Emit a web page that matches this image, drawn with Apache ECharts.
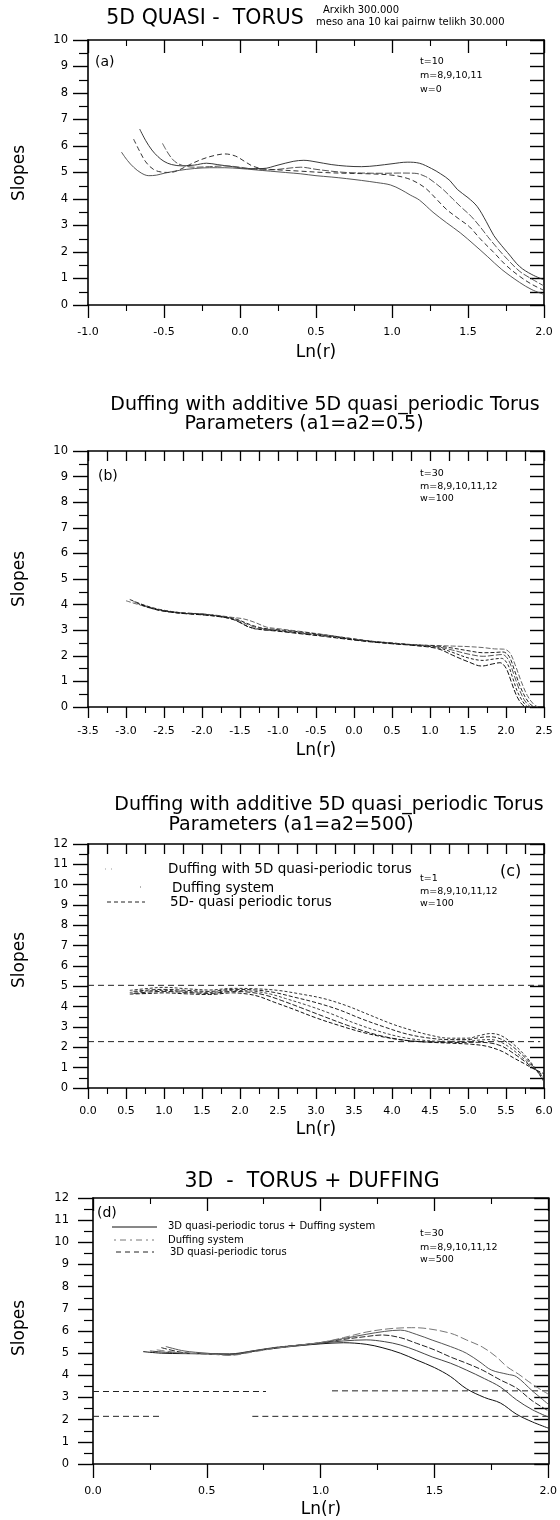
<!DOCTYPE html>
<html>
<head>
<meta charset="utf-8">
<script src="https://cdn.jsdelivr.net/npm/echarts@6/dist/echarts.min.js"></script>
<style>
  html, body { margin: 0; padding: 0; background: #fff; }
  #chart { width: 560px; height: 1520px; }
</style>
</head>
<body>
<div id="chart"></div>
<script>
// ---------- data: [Ln(r), slope] ----------

// (a) 5D quasi-torus, m = 8,9,10,11
const aCurve1 = [[-0.66,6.64],[-0.62,6.2],[-0.58,5.85],[-0.54,5.6],[-0.5,5.42],[-0.45,5.3],[-0.38,5.25],[-0.3,5.28],[-0.22,5.35],[-0.15,5.3],[-0.05,5.22],[0.05,5.15],[0.15,5.15],[0.25,5.28],[0.35,5.42],[0.42,5.46],[0.5,5.4],[0.6,5.3],[0.7,5.24],[0.8,5.22],[0.9,5.26],[1.0,5.33],[1.1,5.39],[1.18,5.35],[1.26,5.15],[1.32,4.95],[1.38,4.7],[1.43,4.36],[1.5,4.05],[1.56,3.72],[1.62,3.15],[1.67,2.62],[1.72,2.25],[1.76,1.98],[1.84,1.45],[1.92,1.15],[2.0,0.95]];
const aCurve2 = [[-0.51,6.1],[-0.47,5.7],[-0.43,5.42],[-0.38,5.27],[-0.3,5.2],[-0.2,5.22],[-0.1,5.25],[0.0,5.2],[0.1,5.12],[0.2,5.1],[0.3,5.15],[0.4,5.2],[0.5,5.12],[0.6,5.05],[0.7,5.0],[0.8,4.98],[0.95,4.97],[1.05,4.98],[1.15,4.97],[1.22,4.85],[1.28,4.62],[1.34,4.34],[1.4,4.0],[1.45,3.72],[1.52,3.35],[1.58,2.95],[1.63,2.58],[1.7,2.1],[1.76,1.72],[1.84,1.27],[1.92,0.98],[2.0,0.72]];
const aCurve3 = [[-0.7,6.26],[-0.66,5.8],[-0.62,5.4],[-0.57,5.12],[-0.52,5.02],[-0.46,5.0],[-0.4,5.1],[-0.33,5.3],[-0.25,5.5],[-0.17,5.64],[-0.1,5.7],[-0.03,5.62],[0.03,5.42],[0.08,5.25],[0.14,5.15],[0.25,5.1],[0.4,5.05],[0.55,5.0],[0.7,4.97],[0.85,4.95],[1.0,4.9],[1.1,4.78],[1.17,4.6],[1.23,4.36],[1.3,3.95],[1.36,3.6],[1.44,3.25],[1.51,2.95],[1.58,2.5],[1.67,1.98],[1.75,1.5],[1.84,1.08],[1.92,0.78],[2.0,0.55]];
const aCurve4 = [[-0.78,5.77],[-0.74,5.45],[-0.7,5.2],[-0.65,4.98],[-0.6,4.88],[-0.55,4.9],[-0.5,4.97],[-0.4,5.08],[-0.3,5.15],[-0.2,5.18],[-0.1,5.18],[0.0,5.15],[0.1,5.1],[0.2,5.05],[0.3,5.0],[0.4,4.95],[0.5,4.88],[0.6,4.83],[0.7,4.77],[0.8,4.7],[0.9,4.62],[0.99,4.53],[1.06,4.35],[1.12,4.15],[1.18,3.96],[1.27,3.5],[1.36,3.1],[1.45,2.72],[1.54,2.28],[1.63,1.82],[1.72,1.35],[1.84,0.85],[1.92,0.58],[2.0,0.4]];

// (b) Duffing + 5D torus, a1=a2=0.5, m = 8..12
const bCurve1 = [[-3.0,4.15],[-2.8,3.97],[-2.6,3.82],[-2.4,3.72],[-2.2,3.67],[-2.0,3.64],[-1.8,3.58],[-1.6,3.5],[-1.45,3.44],[-1.3,3.3],[-1.15,3.12],[-1.0,3.06],[-0.7,2.95],[-0.4,2.83],[-0.1,2.7],[0.2,2.58],[0.5,2.5],[0.8,2.43],[1.1,2.4],[1.3,2.38],[1.5,2.36],[1.7,2.32],[1.85,2.27],[1.97,2.26],[2.05,2.12],[2.12,1.65],[2.2,1.0],[2.28,0.45],[2.36,0.12],[2.42,0]];
const bCurve2 = [[-2.95,4.2],[-2.8,4.02],[-2.6,3.84],[-2.4,3.73],[-2.2,3.66],[-2.0,3.63],[-1.8,3.56],[-1.6,3.47],[-1.5,3.38],[-1.35,3.2],[-1.2,3.08],[-1.0,3.02],[-0.7,2.93],[-0.4,2.82],[-0.1,2.7],[0.2,2.58],[0.5,2.5],[0.8,2.43],[1.1,2.38],[1.3,2.3],[1.5,2.2],[1.7,2.12],[1.85,2.13],[1.96,2.15],[2.04,1.98],[2.11,1.45],[2.18,0.85],[2.26,0.35],[2.33,0.08],[2.38,0]];
const bCurve3 = [[-2.9,4.12],[-2.7,3.9],[-2.5,3.76],[-2.3,3.68],[-2.1,3.65],[-1.9,3.6],[-1.7,3.52],[-1.55,3.42],[-1.4,3.22],[-1.25,3.08],[-1.0,3.0],[-0.7,2.9],[-0.4,2.8],[-0.1,2.68],[0.2,2.57],[0.5,2.49],[0.8,2.42],[1.1,2.35],[1.3,2.22],[1.5,2.07],[1.7,1.98],[1.84,2.02],[1.95,2.05],[2.03,1.85],[2.1,1.3],[2.17,0.72],[2.24,0.28],[2.3,0.06],[2.34,0]];
const bCurve4 = [[-2.85,4.05],[-2.7,3.88],[-2.5,3.75],[-2.3,3.67],[-2.1,3.63],[-1.9,3.58],[-1.7,3.5],[-1.55,3.38],[-1.42,3.18],[-1.3,3.05],[-1.0,2.98],[-0.7,2.88],[-0.4,2.78],[-0.1,2.67],[0.2,2.56],[0.5,2.48],[0.8,2.41],[1.1,2.32],[1.3,2.13],[1.5,1.92],[1.7,1.82],[1.83,1.87],[1.94,1.9],[2.02,1.68],[2.09,1.12],[2.15,0.6],[2.22,0.22],[2.27,0.04],[2.3,0]];
const bCurve5 = [[-2.8,4.0],[-2.6,3.8],[-2.4,3.7],[-2.2,3.64],[-2.0,3.6],[-1.8,3.54],[-1.62,3.45],[-1.5,3.3],[-1.38,3.12],[-1.2,3.02],[-1.0,2.96],[-0.7,2.86],[-0.4,2.76],[-0.1,2.65],[0.2,2.55],[0.5,2.47],[0.8,2.4],[1.1,2.28],[1.3,2.02],[1.5,1.77],[1.68,1.6],[1.82,1.68],[1.92,1.73],[2.0,1.52],[2.07,0.98],[2.13,0.5],[2.19,0.18],[2.24,0.03],[2.27,0]];

// (c) Duffing + 5D torus, a1=a2=500
const cCurve1 = [[0.55,4.8],[0.8,4.9],[1.0,4.95],[1.3,4.88],[1.6,4.82],[1.9,4.9],[2.2,4.88],[2.5,4.8],[2.8,4.62],[3.1,4.4],[3.4,4.05],[3.7,3.6],[4.0,3.15],[4.25,2.85],[4.5,2.6],[4.75,2.45],[5.0,2.45],[5.15,2.58],[5.3,2.68],[5.42,2.6],[5.55,2.3],[5.7,1.8],[5.85,1.15],[6.0,0.3]];
const cCurve2 = [[0.6,4.75],[0.8,4.82],[1.0,4.85],[1.3,4.8],[1.6,4.75],[1.9,4.85],[2.2,4.82],[2.45,4.7],[2.7,4.48],[3.0,4.2],[3.3,3.85],[3.6,3.4],[3.9,3.0],[4.2,2.65],[4.5,2.45],[4.75,2.38],[5.0,2.38],[5.15,2.48],[5.3,2.52],[5.45,2.38],[5.6,2.0],[5.75,1.5],[5.85,1.1],[6.0,0.4]];
const cCurve3 = [[0.55,4.7],[0.8,4.78],[1.0,4.8],[1.3,4.75],[1.6,4.7],[1.9,4.8],[2.2,4.75],[2.4,4.62],[2.6,4.4],[2.9,4.05],[3.2,3.65],[3.5,3.2],[3.8,2.82],[4.1,2.52],[4.4,2.35],[4.7,2.3],[5.0,2.3],[5.15,2.36],[5.3,2.38],[5.45,2.22],[5.6,1.85],[5.75,1.38],[5.85,1.05],[6.0,0.5]];
const cCurve4 = [[0.6,4.65],[0.8,4.72],[1.0,4.75],[1.3,4.7],[1.6,4.65],[1.9,4.75],[2.15,4.7],[2.35,4.55],[2.55,4.3],[2.8,3.95],[3.1,3.52],[3.4,3.1],[3.7,2.72],[4.0,2.45],[4.3,2.3],[4.6,2.25],[4.9,2.24],[5.1,2.25],[5.28,2.22],[5.45,2.05],[5.6,1.7],[5.75,1.3],[5.85,1.0],[6.0,0.6]];
const cCurve5 = [[0.55,4.62],[0.8,4.65],[1.0,4.68],[1.3,4.63],[1.6,4.6],[1.9,4.68],[2.1,4.62],[2.25,4.5],[2.45,4.22],[2.7,3.88],[3.0,3.45],[3.3,3.08],[3.6,2.75],[3.9,2.5],[4.2,2.33],[4.5,2.25],[4.8,2.2],[5.05,2.15],[5.25,2.05],[5.45,1.8],[5.6,1.48],[5.75,1.18],[5.85,0.97],[6.0,0.7]];
const cLevelHigh = [[0,5.05],[6,5.05]];   // Duffing system
const cLevelLow = [[0,2.28],[5.95,2.28]];  // 5D quasi-periodic torus

// (d) 3D torus + Duffing
const dCurve1 = [[0.22,5.07],[0.3,5.0],[0.4,4.98],[0.5,4.97],[0.6,4.95],[0.7,5.08],[0.8,5.22],[0.9,5.33],[1.0,5.42],[1.1,5.47],[1.2,5.4],[1.27,5.25],[1.35,5.0],[1.42,4.7],[1.5,4.35],[1.57,3.95],[1.64,3.4],[1.72,3.0],[1.79,2.75],[1.86,2.25],[1.93,1.9],[2.0,1.62]];
const dCurve2 = [[0.25,5.1],[0.35,5.02],[0.5,4.98],[0.6,4.97],[0.7,5.1],[0.8,5.24],[0.9,5.35],[1.0,5.45],[1.1,5.55],[1.2,5.6],[1.28,5.52],[1.35,5.37],[1.42,5.12],[1.49,4.83],[1.57,4.55],[1.64,4.24],[1.72,3.85],[1.79,3.47],[1.86,2.9],[1.93,2.45],[2.0,2.12]];
const dCurve3 = [[0.3,5.25],[0.4,5.02],[0.5,4.97],[0.6,4.93],[0.7,5.08],[0.8,5.25],[0.9,5.36],[1.0,5.47],[1.1,5.62],[1.2,5.75],[1.27,5.82],[1.35,5.7],[1.42,5.45],[1.5,5.15],[1.57,4.83],[1.64,4.55],[1.71,4.24],[1.79,3.79],[1.86,3.43],[1.93,2.85],[2.0,2.4]];
const dCurve4 = [[0.32,5.3],[0.4,5.1],[0.5,5.0],[0.6,4.92],[0.7,5.1],[0.8,5.26],[0.9,5.36],[1.0,5.48],[1.1,5.66],[1.2,5.85],[1.28,5.98],[1.35,6.04],[1.42,5.85],[1.49,5.59],[1.57,5.3],[1.64,5.0],[1.7,4.6],[1.75,4.24],[1.82,4.05],[1.86,3.94],[1.93,3.3],[2.0,2.7]];
const dCurve5 = [[0.28,5.15],[0.4,5.0],[0.5,4.97],[0.6,4.9],[0.7,5.05],[0.8,5.22],[0.9,5.35],[1.0,5.48],[1.1,5.7],[1.2,5.95],[1.3,6.1],[1.4,6.15],[1.45,6.13],[1.57,5.9],[1.64,5.6],[1.71,5.28],[1.77,4.85],[1.82,4.38],[1.87,4.05],[1.93,3.6],[2.0,3.15]];
const dLevelHighA = [[0,3.27],[0.76,3.27]];
const dLevelHighB = [[1.05,3.3],[2.0,3.3]];
const dLevelLowA = [[0,2.15],[0.29,2.15]];
const dLevelLowB = [[0.7,2.15],[2.0,2.15]];

// axis ranges
const xRanges = [[-1, 2], [-3.5, 2.5], [0, 6], [0, 2]];
const yMaxes = [10, 10, 12, 12];

// ---------- layout ----------
const FONT = 'DejaVu Sans';
const panels = [
  { left: 88, top: 40,   width: 456, height: 265, topStep: 0.5,  topLen: 13, botLen: 13, xMargin: 22, yMargin: 20 },
  { left: 88, top: 451,  width: 456, height: 256, topStep: 0.25, topLen: 10, botLen: 11, xMargin: 19, yMargin: 20 },
  { left: 88, top: 844,  width: 456, height: 244, topStep: 0.25, topLen: 10, botLen: 11, xMargin: 18, yMargin: 20 },
  { left: 93, top: 1198, width: 456, height: 266, topStep: 0.5,  topLen: 13, botLen: 14, xMargin: 22, yMargin: 24 }
];

const grids = [], xAxes = [], yAxes = [], series = [];
const black = '#000';

panels.forEach((p, i) => {
  grids.push({ left: p.left, top: p.top, width: p.width, height: p.height });
  const [x0, x1] = xRanges[i];
  xAxes.push({
    gridIndex: i, type: 'value', position: 'bottom', min: x0, max: x1, interval: 0.5,
    axisLine: { show: true, onZero: false, lineStyle: { color: black, width: 1.6 } },
    axisTick: { show: true, inside: false, length: p.botLen, lineStyle: { color: black, width: 1.3 } },
    minorTick: { show: true, splitNumber: 2, length: 6, lineStyle: { color: black, width: 1.1 } },
    axisLabel: { margin: p.xMargin, fontFamily: FONT, fontSize: 11, color: black, formatter: v => v.toFixed(1) },
    splitLine: { show: false }
  });
  xAxes.push({
    gridIndex: i, type: 'value', position: 'top', min: x0, max: x1, interval: p.topStep,
    axisLine: { show: true, onZero: false, lineStyle: { color: black, width: 1.6 } },
    axisTick: { show: true, inside: true, length: p.topLen, lineStyle: { color: black, width: 1.3 } },
    minorTick: { show: p.topStep === 0.5, splitNumber: 2, length: 6, lineStyle: { color: black, width: 1.1 } },
    axisLabel: { show: false },
    splitLine: { show: false }
  });
  yAxes.push({
    gridIndex: i, type: 'value', position: 'left', min: 0, max: yMaxes[i], interval: 1,
    axisLine: { show: true, onZero: false, lineStyle: { color: black, width: 1.6 } },
    axisTick: { show: true, inside: false, length: 15, lineStyle: { color: black, width: 1.4 } },
    minorTick: { show: true, splitNumber: 2, length: 9, lineStyle: { color: black, width: 1.2 } },
    axisLabel: { margin: p.yMargin, fontFamily: FONT, fontSize: 11.5, color: black },
    splitLine: { show: false }
  });
  yAxes.push({
    gridIndex: i, type: 'value', position: 'right', min: 0, max: yMaxes[i], interval: 0.5,
    axisLine: { show: true, onZero: false, lineStyle: { color: black, width: 1.6 } },
    axisTick: { show: true, inside: true, length: 14, lineStyle: { color: black, width: 1.4 } },
    axisLabel: { show: false },
    splitLine: { show: false }
  });
});

function curve(gi, data, color, type, width) {
  return {
    type: 'line', xAxisIndex: 2 * gi, yAxisIndex: 2 * gi, data: data,
    showSymbol: false, symbol: 'none', smooth: 0.35, silent: true,
    lineStyle: { color: color, width: width || 1, type: type || 'solid' }
  };
}
function level(gi, data) {
  return {
    type: 'line', xAxisIndex: 2 * gi, yAxisIndex: 2 * gi, data: data,
    showSymbol: false, symbol: 'none', silent: true,
    lineStyle: { color: '#222', width: 1, type: [6, 4] }
  };
}

series.push(
  curve(0, aCurve1, '#222', 'solid', 0.9),
  curve(0, aCurve2, '#555', [7, 2], 1),
  curve(0, aCurve3, '#333', [5, 3], 1),
  curve(0, aCurve4, '#444', 'solid', 0.9),

  curve(1, bCurve1, '#666', [5, 2], 1),
  curve(1, bCurve2, '#222', [4, 2], 1),
  curve(1, bCurve3, '#555', [6, 2], 1),
  curve(1, bCurve4, '#222', [3, 2], 1),
  curve(1, bCurve5, '#111', [5, 2], 1),

  level(2, cLevelHigh),
  level(2, cLevelLow),
  curve(2, cCurve1, '#333', [3, 2], 1),
  curve(2, cCurve2, '#222', [4, 2], 1),
  curve(2, cCurve3, '#444', [3, 2], 1),
  curve(2, cCurve4, '#222', [5, 2], 1),
  curve(2, cCurve5, '#111', [4, 2], 1),

  level(3, dLevelHighA),
  level(3, dLevelHighB),
  level(3, dLevelLowA),
  level(3, dLevelLowB),
  curve(3, dCurve1, '#111', 'solid', 1),
  curve(3, dCurve2, '#444', 'solid', 1),
  curve(3, dCurve3, '#222', [6, 2], 1),
  curve(3, dCurve4, '#555', 'solid', 1),
  curve(3, dCurve5, '#777', [8, 3], 1)
);

// ---------- texts ----------
function txt(x, y, text, size, align, rot) {
  return {
    type: 'text', x: x, y: y, rotation: rot || 0, silent: true,
    style: {
      text: text, fontFamily: FONT, fontSize: size, fill: black,
      align: align || 'left', verticalAlign: 'middle',
      textAlign: align || 'left', textVerticalAlign: 'middle'
    }
  };
}
function seg(x1, x2, y, dash, color) {
  return {
    type: 'line', silent: true, shape: { x1: x1, y1: y, x2: x2, y2: y },
    style: { stroke: color || black, lineWidth: 1, lineDash: dash || null }
  };
}

const ROT = Math.PI / 2;
const graphics = [
  // (a)
  txt(205, 19, '5D QUASI -  TORUS', 20.5, 'center'),
  txt(323, 10, 'Arxikh 300.000', 10, 'left'),
  txt(316, 22, 'meso ana 10 kai pairnw telikh 30.000', 10, 'left'),
  txt(95, 62, '(a)', 14, 'left'),
  txt(420, 62, 't=10', 9.5, 'left'),
  txt(420, 76, 'm=8,9,10,11', 9.5, 'left'),
  txt(420, 90, 'w=0', 9.5, 'left'),
  txt(20, 173, 'Slopes', 17, 'center', ROT),
  txt(316, 353, 'Ln(r)', 17, 'center'),
  // (b)
  txt(325, 405, 'Duffing with additive 5D quasi_periodic Torus', 19, 'center'),
  txt(304, 424, 'Parameters (a1=a2=0.5)', 19, 'center'),
  txt(98, 476, '(b)', 14, 'left'),
  txt(420, 474, 't=30', 9.5, 'left'),
  txt(420, 487, 'm=8,9,10,11,12', 9.5, 'left'),
  txt(420, 499, 'w=100', 9.5, 'left'),
  txt(20, 579, 'Slopes', 17, 'center', ROT),
  txt(316, 751, 'Ln(r)', 17, 'center'),
  // (c)
  txt(329, 805, 'Duffing with additive 5D quasi_periodic Torus', 19, 'center'),
  txt(291, 825, 'Parameters (a1=a2=500)', 19, 'center'),
  seg(105, 112, 869, [1, 5], '#999'),
  txt(168, 869, 'Duffing with 5D quasi-periodic torus', 13.5, 'left'),
  seg(140, 146, 887, [1, 5], '#666'),
  txt(172, 888, 'Duffing system', 13.5, 'left'),
  seg(107, 145, 902, [4, 3], '#222'),
  txt(170, 902, '5D- quasi periodic torus', 13.5, 'left'),
  txt(500, 872, '(c)', 16, 'left'),
  txt(420, 879, 't=1', 9.5, 'left'),
  txt(420, 892, 'm=8,9,10,11,12', 9.5, 'left'),
  txt(420, 904, 'w=100', 9.5, 'left'),
  txt(20, 960, 'Slopes', 17, 'center', ROT),
  txt(316, 1130, 'Ln(r)', 17, 'center'),
  // (d)
  txt(312, 1182, '3D  -  TORUS + DUFFING', 20.5, 'center'),
  txt(97, 1213, '(d)', 14, 'left'),
  seg(112, 157, 1227, null, '#111'),
  txt(168, 1226, '3D quasi-periodic torus + Duffing system', 10, 'left'),
  seg(114, 154, 1240, [2, 4, 6, 4], '#777'),
  txt(168, 1240, 'Duffing system', 10, 'left'),
  seg(116, 154, 1252, [5, 4], '#222'),
  txt(170, 1252, '3D quasi-periodic torus', 10, 'left'),
  txt(420, 1234, 't=30', 9.5, 'left'),
  txt(420, 1248, 'm=8,9,10,11,12', 9.5, 'left'),
  txt(420, 1260, 'w=500', 9.5, 'left'),
  txt(20, 1328, 'Slopes', 17, 'center', ROT),
  txt(321, 1510, 'Ln(r)', 17, 'center')
];

const chart = echarts.init(document.getElementById('chart'), null, { renderer: 'canvas' });
chart.setOption({
  backgroundColor: '#fff',
  animation: false,
  grid: grids,
  xAxis: xAxes,
  yAxis: yAxes,
  series: series,
  graphic: graphics
});
</script>
</body>
</html>
